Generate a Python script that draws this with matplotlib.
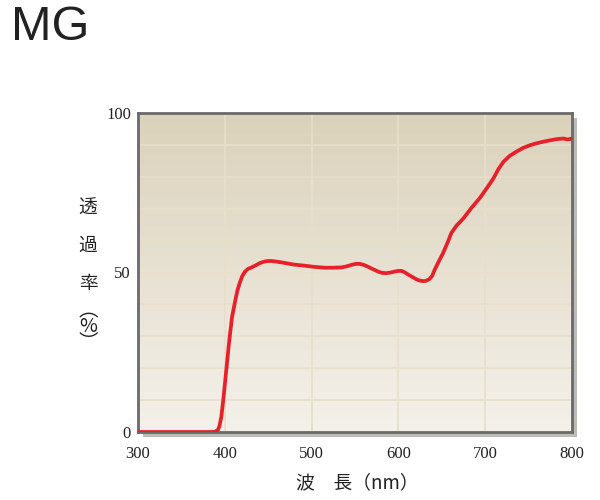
import numpy as np
import matplotlib
matplotlib.use("Agg")
import matplotlib.pyplot as plt
from matplotlib.patches import Rectangle
from matplotlib.colors import LinearSegmentedColormap

wavelength = [300, 350, 385, 389, 392, 394, 396, 398.6, 401.7, 404.8, 408.3, 412.2,
              414.5, 417, 420, 423, 427, 431, 436, 440, 444, 449, 454, 460, 467,
              479, 490, 502, 515, 525, 534.5, 540, 546, 551, 555.5, 560, 565, 571,
              576.6, 581, 586, 591, 596, 600, 603.6, 607, 611, 616, 620.6, 624,
              628.3, 632, 636, 639, 641.7, 646, 651.3, 657, 661, 667, 675, 684,
              694, 702, 709.5, 715, 721, 728, 736, 744, 751.6, 759, 766.9, 774,
              782, 790, 795, 800]
transmittance = [0, 0, 0, 0.1, 0.6, 2, 4.8, 11, 19.4, 27.8, 36, 41.4,
                 44.3, 46.6, 48.8, 50.2, 51.2, 51.6, 52.3, 52.9, 53.3, 53.6, 53.6, 53.4, 53.1,
                 52.5, 52.2, 51.8, 51.5, 51.5, 51.6, 51.9, 52.4, 52.7, 52.7, 52.4, 51.8, 51.0,
                 50.3, 49.9, 49.8, 50.0, 50.3, 50.5, 50.5, 50.1, 49.4, 48.6, 47.9, 47.5,
                 47.3, 47.4, 48.0, 49.0, 50.8, 53.2, 56, 59.6, 62.4, 64.7, 67, 70.2,
                 73.4, 76.5, 79.5, 82.3, 84.7, 86.5, 87.9, 89.1, 89.9, 90.5, 91, 91.4,
                 91.8, 92.0, 91.7, 92.0]

xticks = [300, 400, 500, 600, 700, 800]
yticks = [0, 50, 100]

plt.rcParams['font.family'] = ['Noto Sans CJK JP', 'DejaVu Sans']

fig = plt.figure(figsize=(6, 5), dpi=100)
L, B, W, H = 138/600, 1-432/500, (572-138)/600, (432-113)/500

# shadow
shadow = Rectangle((L + 5/600, B - 5/500), W, H, transform=fig.transFigure,
                   facecolor='#bdbbb5', edgecolor='none', zorder=-5)
fig.add_artist(shadow)
ax = fig.add_axes([L, B, W, H])
ax.set_zorder(1)
ax.set_xlim(300, 800)
ax.set_ylim(0, 100)

cmap = LinearSegmentedColormap.from_list('bg', ['#f4f1ea', '#dbd2bb'])
grad = np.linspace(0, 1, 256).reshape(-1, 1)
ax.imshow(grad, extent=[300, 800, 0, 100], origin='lower', cmap=cmap,
          aspect='auto', zorder=0)

for x in range(400, 800, 100):
    ax.axvline(x, color='#e8dfca', lw=1.2, zorder=1)
for y in range(10, 100, 10):
    ax.axhline(y, color='#e8dfca', lw=1.2, zorder=1)

ax.plot(wavelength, transmittance, color='#e8202a', lw=2.7, zorder=3,
        solid_capstyle='round', solid_joinstyle='round')

for s in ax.spines.values():
    s.set_color('#6a6a6a')
    s.set_linewidth(2)

ax.set_xticks(xticks)
ax.set_yticks(yticks)
ax.tick_params(axis='x', length=0, pad=10)
ax.tick_params(axis='y', length=0, pad=5)
for lab in ax.get_xticklabels() + ax.get_yticklabels():
    lab.set_fontfamily('Liberation Serif')
    lab.set_fontsize(12)
    lab.set_color('#222222')

fig.text(357/600, 1-483/500, '波　長（nm）', ha='center', va='center', fontsize=13.5,
         color='#222222')
ychars = ['透', '過', '率']
for i, c in enumerate(ychars):
    fig.text(88/600, 1-(208 + 37.5*i)/500, c, ha='center', va='center', fontsize=13.5,
             color='#222222')
fig.text(88/600, 1-327/500, '︵\n%\n︶', ha='center', va='center', fontsize=14,
         color='#222222', linespacing=0.68)

fig.text(11/600, 1-28/500, 'MG', ha='left', va='center', fontsize=35,
         family='Liberation Sans', color='#222222')

fig.savefig('out.png', dpi=100)
